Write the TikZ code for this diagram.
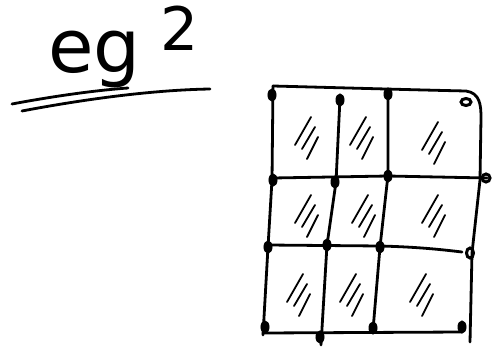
\documentclass[tikz,border=0pt]{standalone}
\usepackage{fontspec}
\setmainfont{DejaVu Sans}
\begin{document}
\begin{tikzpicture}[x=1pt,y=-1pt,
  pen/.style={line width=2.8pt,line cap=round,line join=round},
  hatchpen/.style={line width=1.8pt,line cap=round},
  vdot/.style={fill=black,draw=black,line width=1pt}]
\useasboundingbox (0,0) rectangle (495,348);
% title
\node[anchor=base west,inner sep=0pt,font=\fontsize{74}{74}\selectfont] (title) at (48,72) {eg};
\node[anchor=base west,inner sep=0pt,font=\fontsize{60}{60}\selectfont] (sup) at (160,50) {2};
\draw[pen] (12,104) .. controls (60,95) and (100,90) .. (128,88);
\draw[pen] (22,111) .. controls (80,100) and (150,90) .. (210,89);
% grid outer lines
\draw[pen] (273,86) .. controls (350,88) and (420,90) .. (466,91) .. controls (480,93) and (481,105) .. (481,118) -- (480,180) -- (472,253) -- (470,342);
\draw[pen] (273,86) -- (272,180) -- (268,247) -- (263,335);
\draw[pen] (263,333) -- (462,332);
% inner verticals
\draw[pen] (340,98) -- (336,182) -- (327,245) -- (321,345);
\draw[pen] (388,90) -- (388,175) -- (380,247) -- (373,330);
% inner horizontals
\draw[pen] (273,178) -- (388,176) -- (487,178);
\draw[pen] (268,245) -- (380,246) .. controls (420,247) and (445,250) .. (462,252);
% vertices
\foreach \p in {(272,95),(340,100),(388,94),(335,182),(388,176),(273,180),(268,247),(327,245),(380,247),(265,327),(320,337),(373,328),(462,327)}
  \fill[vdot] \p ellipse (4pt and 6pt);
\draw[line width=3pt] (466,102) ellipse (5pt and 3.5pt);
\draw[line width=3pt] (486,178) ellipse (4pt and 4pt);
\draw[line width=3pt] (470,253) ellipse (3.5pt and 5pt);
% hatching
\foreach \cx/\cy in {305/135,360/135,432/140,305/213,362/213,432/213,297/292,350/292,420/292}{
  \draw[hatchpen] (\cx-10,\cy+10) -- (\cx+6,\cy-18);
  \draw[hatchpen] (\cx-3,\cy+14) -- (\cx+10,\cy-8);
  \draw[hatchpen] (\cx+2,\cy+24) -- (\cx+13,\cy+2);
}
\end{tikzpicture}
\end{document}
